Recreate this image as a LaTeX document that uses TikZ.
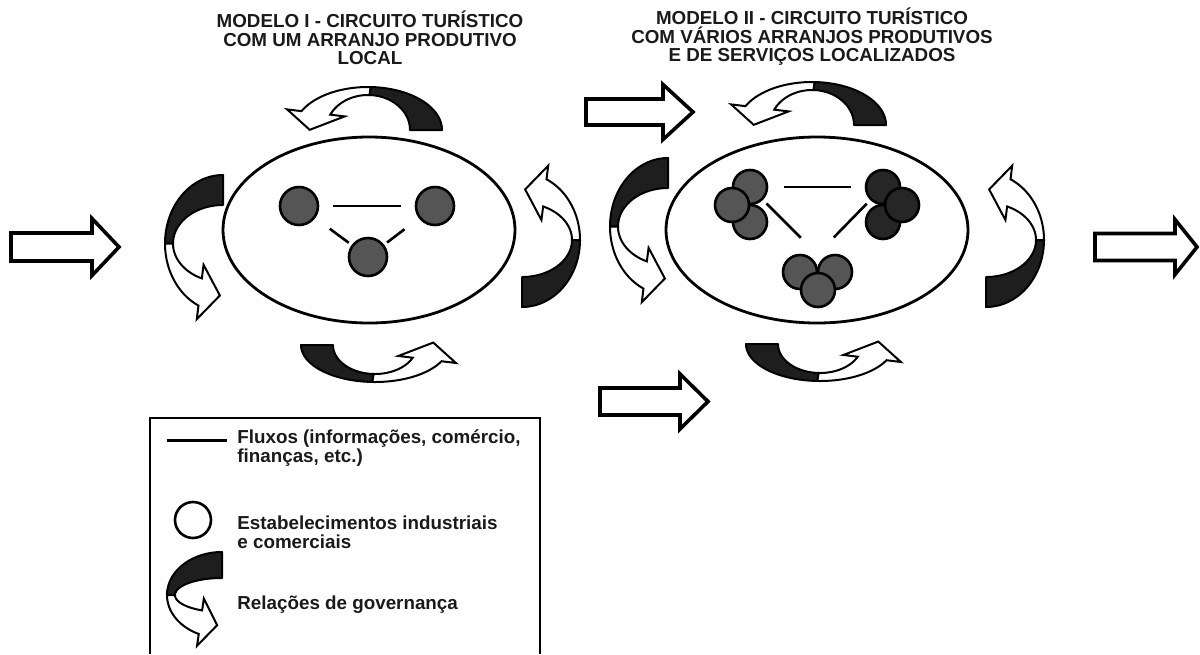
\documentclass[tikz,border=0pt]{standalone}
\usepackage{fontspec}
\setmainfont{Liberation Sans}
\usetikzlibrary{shapes.geometric}
\definecolor{nodegray}{HTML}{555555}
\definecolor{nodedark}{HTML}{262626}
\definecolor{ribbon}{HTML}{1E1E1E}
\definecolor{txt}{HTML}{1A1A1A}
\tikzset{
  ellip/.style={ellipse, draw=black, line width=1.4pt, fill=white, inner sep=0pt},
  est/.style={circle, draw=black, line width=1.3pt, fill=nodegray, inner sep=0pt, minimum size=19pt},
  estII/.style={est, minimum size=17pt},
  estIIdark/.style={estII, fill=nodedark},
  flow/.style={draw=black, line width=1.3pt},
  govdark/.style={fill=ribbon, draw=black, line width=1pt, line join=round},
  govlight/.style={fill=white, draw=black, line width=1pt, line join=miter},
  blockarrow/.style={draw=black, fill=white, line width=1.8pt, line join=miter},
  lbl/.style={font=\bfseries\fontsize{9.4}{9.3}\selectfont, text=txt, inner sep=0pt},
}
% governance ribbon: rx, ry, hx, hy, t0, tm, t1, head direction, head length
\newcommand{\govarr}[9]{%
  \pgfmathsetmacro\gRxo{(#1)+(#3)}%
  \pgfmathsetmacro\gRyo{(#2)+(#4)}%
  \pgfmathsetmacro\gRxi{(#1)-(#3)}%
  \pgfmathsetmacro\gRyi{(#2)-(#4)}%
  \pgfmathsetmacro\gPox{\gRxo*cos(#7)}%
  \pgfmathsetmacro\gPoy{-\gRyo*sin(#7)}%
  \pgfmathsetmacro\gPix{\gRxi*cos(#7)}%
  \pgfmathsetmacro\gPiy{-\gRyi*sin(#7)}%
  \pgfmathsetmacro\gMx{((\gPox)+(\gPix))/2}%
  \pgfmathsetmacro\gMy{((\gPoy)+(\gPiy))/2}%
  \pgfmathsetmacro\gBox{(\gPox)+0.5*((\gPox)-(\gPix))}%
  \pgfmathsetmacro\gBoy{(\gPoy)+0.5*((\gPoy)-(\gPiy))}%
  \pgfmathsetmacro\gBix{(\gPix)+0.5*((\gPix)-(\gPox))}%
  \pgfmathsetmacro\gBiy{(\gPiy)+0.5*((\gPiy)-(\gPoy))}%
  \pgfmathsetmacro\gTx{(\gMx)+(#9)*cos(#8)}%
  \pgfmathsetmacro\gTy{(\gMy)-(#9)*sin(#8)}%
  \filldraw[govdark]
    plot[domain=#5:#6, samples=40, variable=\t] ({\gRxo*cos(\t)},{-\gRyo*sin(\t)})
    -- plot[domain=#6:#5, samples=40, variable=\t] ({\gRxi*cos(\t)},{-\gRyi*sin(\t)})
    -- cycle;
  \filldraw[govlight]
    plot[domain=#6:#7, samples=40, variable=\t] ({\gRxo*cos(\t)},{-\gRyo*sin(\t)})
    -- (\gBox,\gBoy) -- (\gTx,\gTy) -- (\gBix,\gBiy)
    -- plot[domain=#7:#6, samples=40, variable=\t] ({\gRxi*cos(\t)},{-\gRyi*sin(\t)})
    -- cycle;
}
% block arrow: x start, x head base, x tip, y centre, half shaft, half head
\newcommand{\blockarr}[6]{%
  \draw[blockarrow] ({#1},{#4-#5}) -- ({#2},{#4-#5}) -- ({#2},{#4-#6}) -- ({#3},{#4})
    -- ({#2},{#4+#6}) -- ({#2},{#4+#5}) -- ({#1},{#4+#5}) -- cycle;}
\begin{document}
\begin{tikzpicture}[x=0.5pt, y=-0.5pt]
\useasboundingbox (0,0) rectangle (1200,654);

% titles
\node[lbl, align=center] (t1) at (370,38) {MODELO I - CIRCUITO TURÍSTICO\\COM UM ARRANJO PRODUTIVO\\LOCAL};
\node[lbl, align=center] (t2) at (812,37) {MODELO II - CIRCUITO TURÍSTICO\\COM VÁRIOS ARRANJOS PRODUTIVOS\\E DE SERVIÇOS LOCALIZADOS};

% block arrows
\blockarr{11}{92}{119}{247}{14}{28.5}
\blockarr{1095}{1175}{1197}{247}{13.5}{27.5}
\blockarr{586}{663}{693}{112}{13}{27.5}
\blockarr{600}{680}{708}{401.5}{13.5}{27.5}

% ellipses
\node[ellip, minimum width=146pt, minimum height=93pt] (E1) at (369,230) {};
\node[ellip, minimum width=151pt, minimum height=93pt] (E2) at (817,230) {};

% governance ribbons, model I
\begin{scope}[shift={(368,130)}] \govarr{58}{39}{16}{4}{0}{88}{154}{250}{18} \end{scope}
\begin{scope}[shift={(375,345)}] \govarr{58}{33}{16}{4}{180}{268}{334}{70}{18} \end{scope}
\begin{scope}[shift={(223,243.5)}] \govarr{54}{53.5}{4}{15}{90}{180}{245}{-10}{20} \end{scope}
\begin{scope}[shift={(522,240)}] \govarr{54}{52}{4}{15}{270}{360}{425}{170}{20} \end{scope}

% governance ribbons, model II
\begin{scope}[shift={(812,125)}] \govarr{58}{39}{16}{4}{0}{88}{154}{250}{18} \end{scope}
\begin{scope}[shift={(820,344)}] \govarr{58}{33}{16}{4}{180}{268}{334}{70}{18} \end{scope}
\begin{scope}[shift={(668,226.5)}] \govarr{54}{53.5}{4}{15}{90}{180}{245}{-10}{20} \end{scope}
\begin{scope}[shift={(986,240)}] \govarr{54}{52}{4}{15}{270}{360}{425}{170}{20} \end{scope}

% model I establishments
\node[est] (a1) at (299,206) {};
\node[est] (a2) at (435,206) {};
\node[est] (a3) at (368,257) {};
\draw[flow, shorten <=7pt, shorten >=7pt] (a1) -- (a2);
\draw[flow, shorten <=9pt, shorten >=1.8pt] (a1) -- (a3);
\draw[flow, shorten <=9pt, shorten >=1.8pt] (a2) -- (a3);

% model II establishments
\node[estII] (la) at (750,187) {};
\node[estII] (lc) at (750,222) {};
\node[estII] (lb) at (732,205) {};
\node[estIIdark] (ra) at (883,187) {};
\node[estIIdark] (rc) at (883,222) {};
\node[estIIdark] (rb) at (902,205) {};
\node[estII] (ca) at (800,272) {};
\node[estII] (cb) at (835,272) {};
\node[estII] (cc) at (818,290) {};
\draw[flow, shorten <=8pt, shorten >=7pt] (la) -- (ra);
\draw[flow, shorten <=2.5pt, shorten >=15pt] (la) -- (cb);
\draw[flow, shorten <=2.5pt, shorten >=15pt] (ra) -- (ca);

% legend
\draw[line width=1.3pt] (150,654) -- (150,418) -- (540,418) -- (540,654);
\coordinate (f1) at (167,440);
\coordinate (f2) at (227,440);
\draw[flow, line width=1.5pt] (f1) -- (f2);
\node[lbl, anchor=west, align=left] (L1) at (237,448) {Fluxos (informações, comércio,\\finanças, etc.)};
\node[est, fill=white, minimum size=18pt] (lgc) at (193,520) {};
\node[lbl, anchor=west, align=left] (L2) at (237,532) {Estabelecimentos industriais\\e comerciais};
\begin{scope}[shift={(222,595)}] \govarr{51}{30}{4}{13}{90}{180}{245}{-10}{17} \end{scope}
\node[lbl, anchor=west] (L3) at (237,605) {Relações de governança};
\end{tikzpicture}
\end{document}
